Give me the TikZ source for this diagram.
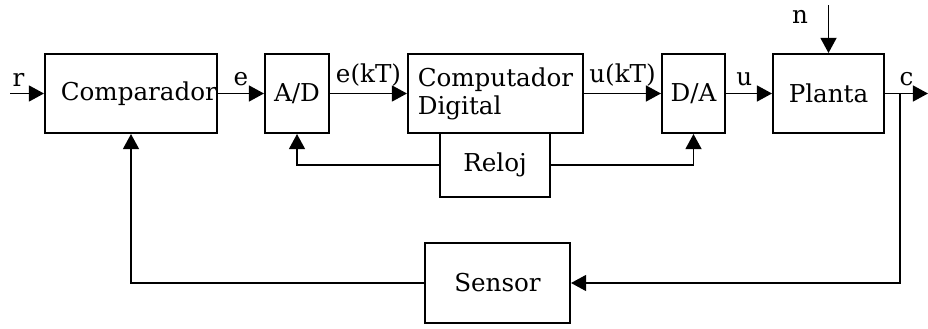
\documentclass[tikz,border=0pt]{standalone}
\usepackage{fontspec}
\setmainfont{DejaVu Serif}
\usetikzlibrary{arrows.meta}
\usetikzlibrary{positioning}

\tikzset{
  block/.style={draw,line width=1.4pt,minimum height=1.975cm,inner sep=2pt},
  sig/.style={line width=1.3pt,-{Triangle[length=0.38cm,width=0.4cm]}},
  lbl/.style={inner sep=4.5pt}
}

\begin{document}
\begin{tikzpicture}[x=0.025cm,y=-0.025cm,font=\fontsize{17.5}{20}\selectfont]
\useasboundingbox (0,0) rectangle (928,329);
% blocks
\node[block,inner xsep=0pt,text width=4.3cm,align=right] (comp) at (131,93.5) {Comparador};
\node[block,minimum width=1.6cm] (ad) at (297,93.5) {A/D};
\node[block,minimum width=4.375cm,align=left] (cd) at (495.5,93.5) {Computador\\Digital};
\node[block,minimum width=2.75cm,minimum height=1.6cm] (reloj) at (495,165) {Reloj};
\node[block,minimum width=1.575cm] (da) at (693.5,93.5) {D/A};
\node[block,minimum width=2.775cm] (planta) at (828.5,93.5) {Planta};
\node[block,minimum width=3.625cm,minimum height=2cm] (sensor) at (497.5,283) {Sensor};
% free ends
\coordinate (rin) at (10,93.5);
\coordinate (nin) at (828.5,5);
\coordinate (cout) at (928,93.5);
\coordinate (br) at (900,93.5);
% forward path
\draw[sig] (rin) -- node[lbl,pos=0.25,above] {r} (comp.west);
\draw[sig] (comp.east) -- node[lbl,above] {e} (ad.west);
\draw[sig] (ad.east) -- node[lbl,above] {e(kT)} (cd.west);
\draw[sig] (cd.east) -- node[lbl,above] {u(kT)} (da.west);
\draw[sig] (da.east) -- node[lbl,above,pos=0.4] {u} (planta.west);
\draw[sig] (planta.east) -- node[lbl,above] {c} (cout);
\draw[sig] (nin) -- (planta.north);
\node[lbl] (nlbl) at (800,17) {n};
% clock
\draw[sig] (reloj.west) -| (ad.south);
\draw[sig] (reloj.east) -| (da.south);
% feedback
\draw[sig] (br) |- (sensor.east);
\draw[sig] (sensor.west) -| (comp.south);
\end{tikzpicture}
\end{document}
